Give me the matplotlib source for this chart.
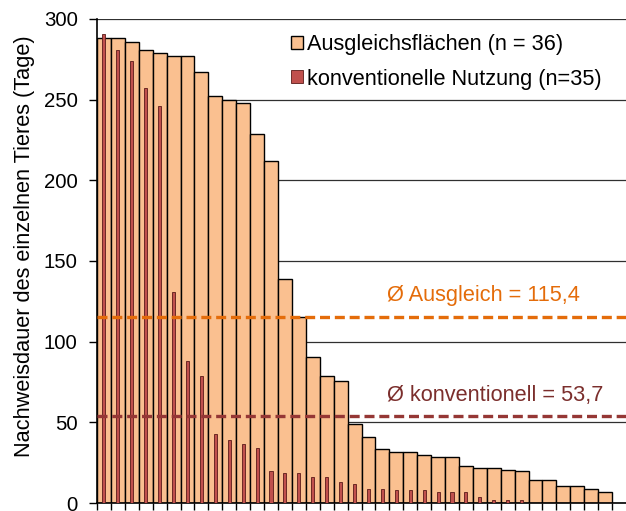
import matplotlib
matplotlib.use('Agg')
import matplotlib.pyplot as plt
import numpy as np

plt.rcParams['font.family'] = ['Liberation Sans', 'DejaVu Sans']

# Nachweisdauer je Tier (Tage), absteigend sortiert
ausgleich = [288, 288, 286, 281, 279, 277, 277, 267, 252, 249.6, 248, 229, 212,
             139, 115, 90.7, 78.7, 75.6, 48.8, 40.7, 33.5, 31.8, 31.8, 29.5,
             28.7, 28.7, 22.7, 21.7, 21.5, 20.6, 19.6, 14.5, 14.5, 10.7, 10.7,
             8.7, 6.6]
konventionell = [291, 281, 274, 257, 246, 131, 88, 79, 42.6, 38.9, 36.8, 33.9,
                 19.6, 18.7, 18.8, 15.9, 15.9, 12.8, 12, 8.7, 8.7, 7.9, 7.9,
                 7.9, 6.6, 6.6, 6.6, 3.7, 1.7, 1.7, 1.7]
mean_ausgleich = 115.4
mean_konv = 53.7
n_slots = 38

orange = '#FAC090'
red = '#C0504D'
line_orange = '#E46C0A'
line_red = '#953735'
text_red = '#7B2E2C'

fig = plt.figure(figsize=(6.26, 5.11), dpi=100)
ax = fig.add_axes([97 / 626, 8 / 511, 529 / 626, 484 / 511])

x_a = np.arange(len(ausgleich))
x_k = np.arange(len(konventionell))

ax.bar(x_a, ausgleich, width=1.0, color=orange, edgecolor='black',
       linewidth=1.0, zorder=2, label='Ausgleichsflächen (n = 36)')
ax.bar(x_k, konventionell, width=0.22, color=red, edgecolor='#5a1a18',
       linewidth=0.6, zorder=3, label='konventionelle Nutzung (n=35)')

ax.axhline(mean_ausgleich, color=line_orange, linewidth=2.4,
           dashes=(3.0, 1.45), zorder=4)
ax.axhline(mean_konv, color=line_red, linewidth=2.4,
           dashes=(3.0, 1.45), zorder=4)

ax.text(27.28, 125.4, 'Ø Ausgleich = 115,4', color=line_orange, fontsize=15.7,
        ha='center', va='baseline', zorder=5)
ax.text(28.09, 63.4, 'Ø konventionell = 53,7', color=text_red, fontsize=15.7,
        ha='center', va='baseline', zorder=5)

ax.set_xlim(-0.5, n_slots - 0.5)
ax.set_ylim(0, 300)
ax.set_yticks(np.arange(0, 301, 50))
ax.set_xticks(np.arange(len(ausgleich) + 1) - 0.5)
ax.set_xticklabels([])
ax.yaxis.grid(True, color='#303030', linewidth=0.9, zorder=0)
ax.set_axisbelow(True)
ax.tick_params(axis='y', labelsize=14.7, length=6, width=1, pad=8,
               direction='out')
ax.tick_params(axis='x', length=5, width=1, direction='out')
for s in ['top', 'right']:
    ax.spines[s].set_visible(False)
ax.spines['left'].set_linewidth(1.2)
ax.spines['bottom'].set_linewidth(1.2)

ax.set_ylabel('Nachweisdauer des einzelnen Tieres (Tage)', fontsize=15.7)
ax.yaxis.set_label_coords(-0.118, 0.531)

ax.legend(loc='upper left', bbox_to_anchor=(0.366, 0.968), frameon=False,
          fontsize=15.7, handlelength=0.55, handleheight=0.55,
          handletextpad=0.2, labelspacing=0.6, borderpad=0,
          borderaxespad=0)

fig.savefig('out.png', dpi=100)
